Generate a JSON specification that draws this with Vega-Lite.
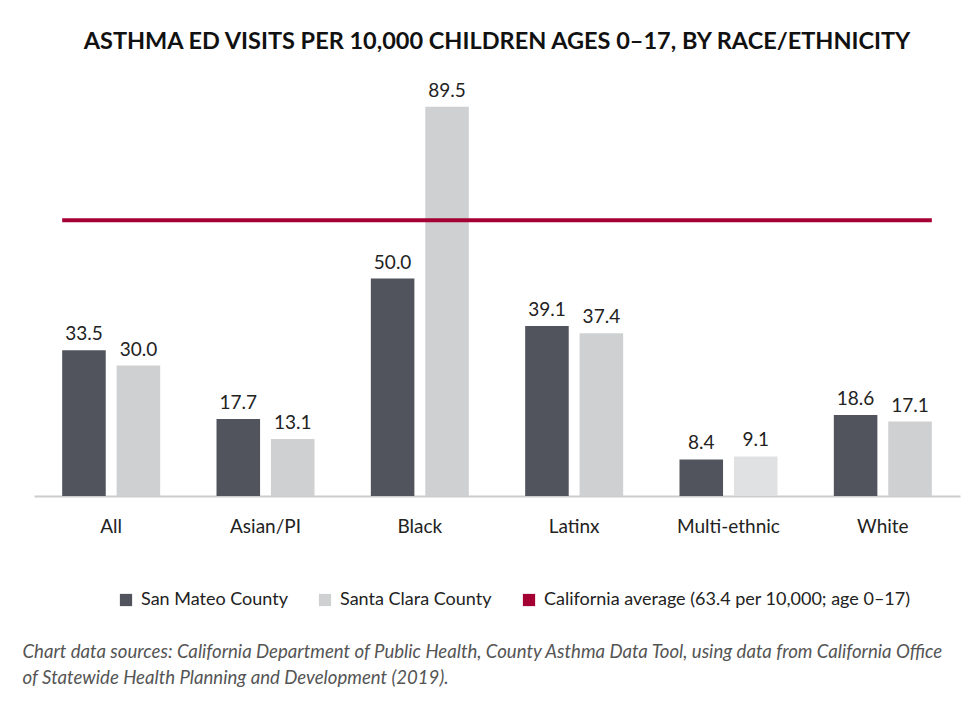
{
  "$schema": "https://vega.github.io/schema/vega-lite/v6.json",
  "width": 926,
  "height": 435,
  "autosize": {"type": "none"},
  "padding": {"left": 34, "top": 61, "right": 13, "bottom": 209},
  "background": "white",
  "title": {
    "text": "ASTHMA ED VISITS PER 10,000 CHILDREN AGES 0–17, BY RACE/ETHNICITY",
    "font": "Lato",
    "fontSize": 23.5,
    "fontWeight": "bold",
    "color": "#111111",
    "anchor": "middle",
    "offset": 8
  },
  "config": {"view": {"stroke": null}, "font": "Lato"},
  "datasets": {
    "bars": [
      {"cat": "All", "county": "San Mateo County", "value": 33.5},
      {"cat": "All", "county": "Santa Clara County", "value": 30.0},
      {"cat": "Asian/PI", "county": "San Mateo County", "value": 17.7},
      {"cat": "Asian/PI", "county": "Santa Clara County", "value": 13.1},
      {"cat": "Black", "county": "San Mateo County", "value": 50.0},
      {"cat": "Black", "county": "Santa Clara County", "value": 89.5},
      {"cat": "Latinx", "county": "San Mateo County", "value": 39.1},
      {"cat": "Latinx", "county": "Santa Clara County", "value": 37.4},
      {"cat": "Multi-ethnic", "county": "San Mateo County", "value": 8.4},
      {"cat": "Multi-ethnic", "county": "Santa Clara County", "value": 9.1},
      {"cat": "White", "county": "San Mateo County", "value": 18.6},
      {"cat": "White", "county": "Santa Clara County", "value": 17.1}
    ],
    "avg": [
      {"avg": 63.4, "label": "California average (63.4 per 10,000; age 0–17)"}
    ]
  },
  "layer": [
    {
      "data": {"name": "bars"},
      "mark": {"type": "bar"},
      "encoding": {
        "x": {
          "field": "cat",
          "type": "nominal",
          "sort": ["All", "Asian/PI", "Black", "Latinx", "Multi-ethnic", "White"],
          "scale": {"paddingInner": 0.365, "paddingOuter": 0.1826},
          "axis": {
            "domainColor": "#cccccc",
            "domainWidth": 2,
            "ticks": false,
            "labelFontSize": 19,
            "labelColor": "#222222",
            "labelPadding": 21,
            "labelAngle": 0,
            "title": [
              "Chart data sources: California Department of Public Health, County Asthma Data Tool, using data from California Office",
              "of Statewide Health Planning and Development (2019)."
            ],
            "titleX": -12,
            "titleY": 161,
            "titleAlign": "left",
            "titleAnchor": "start",
            "titleBaseline": "alphabetic",
            "titleFontSize": 18.6,
            "titleFontStyle": "italic",
            "titleFontWeight": "normal",
            "titleColor": "#555555",
            "titleLineHeight": 26
          }
        },
        "xOffset": {
          "field": "county",
          "type": "nominal",
          "scale": {"paddingInner": 0.2, "paddingOuter": 0}
        },
        "y": {
          "field": "value",
          "type": "quantitative",
          "scale": {"domain": [0, 100]},
          "axis": null
        },
        "color": {
          "condition": {
            "test": "datum.cat === 'Multi-ethnic' && datum.county === 'Santa Clara County'",
            "value": "#e0e1e2"
          },
          "field": "county",
          "type": "nominal",
          "scale": {
            "domain": ["San Mateo County", "Santa Clara County", "California average (63.4 per 10,000; age 0–17)"],
            "range": ["#51545c", "#cfd0d2", "#a50034"]
          },
          "legend": {
            "orient": "none",
            "legendX": 83,
            "legendY": 530,
            "direction": "horizontal",
            "title": null,
            "symbolType": "square",
            "symbolSize": 150,
            "symbolStrokeWidth": 0,
            "symbolOpacity": 1,
            "labelFontSize": 18,
            "labelColor": "#222222",
            "labelOffset": 6,
            "columnPadding": 28,
            "labelLimit": 500
          }
        }
      }
    },
    {
      "data": {"name": "bars"},
      "mark": {"type": "text", "baseline": "bottom", "dy": -6, "fontSize": 19, "color": "#222222"},
      "encoding": {
        "x": {
          "field": "cat",
          "type": "nominal",
          "sort": ["All", "Asian/PI", "Black", "Latinx", "Multi-ethnic", "White"]
        },
        "xOffset": {"field": "county", "type": "nominal"},
        "y": {"field": "value", "type": "quantitative"},
        "text": {"field": "value", "type": "quantitative", "format": ".1f"}
      }
    },
    {
      "data": {"name": "avg"},
      "mark": {"type": "rule", "strokeWidth": 4},
      "encoding": {
        "y": {"field": "avg", "type": "quantitative"},
        "x": {"datum": "All", "bandPosition": 0},
        "x2": {"datum": "White", "bandPosition": 1},
        "color": {"field": "label", "type": "nominal"}
      }
    }
  ]
}
